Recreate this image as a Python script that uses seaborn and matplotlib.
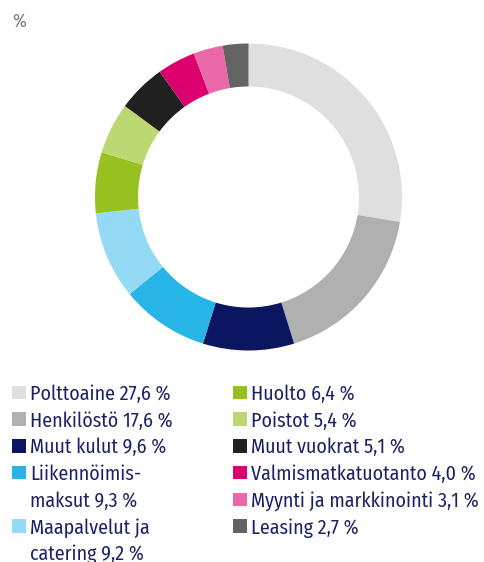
import matplotlib
matplotlib.use("Agg")
import matplotlib.pyplot as plt
from matplotlib.patches import Rectangle
import seaborn as sns
import pandas as pd

categories = ["Polttoaine", "Henkilöstö", "Muut kulut", "Liikennöimismaksut",
              "Maapalvelut ja catering", "Huolto", "Poistot", "Muut vuokrat",
              "Valmismatkatuotanto", "Myynti ja markkinointi", "Leasing"]
values = [27.6, 17.6, 9.6, 9.3, 9.2, 6.4, 5.4, 5.1, 4.0, 3.1, 2.7]
legend_labels = ["Polttoaine 27,6 %", "Henkilöstö 17,6 %", "Muut kulut 9,6 %",
                 "Liikennöimis-\nmaksut 9,3 %", "Maapalvelut ja\ncatering 9,2 %",
                 "Huolto 6,4 %", "Poistot 5,4 %", "Muut vuokrat 5,1 %",
                 "Valmismatkatuotanto 4,0 %", "Myynti ja markkinointi 3,1 %",
                 "Leasing 2,7 %"]
colors = ["#dfdfdf", "#b0b0b0", "#0c1660", "#27b5e8", "#94daf4", "#97c11e",
          "#bcd872", "#202020", "#dc006e", "#ea68a8", "#636363"]

df = pd.DataFrame({"category": categories, "value": values,
                   "label": legend_labels, "color": colors})

sns.set_theme(style="white")
plt.rcParams["font.family"] = ["Fira Sans Condensed", "DejaVu Sans"]

W, H = 484, 562
fig = plt.figure(figsize=(W / 100, H / 100), dpi=100)

cx, cy, r = 248.5, 197, 153.5
ax = fig.add_axes([(cx - r) / W, (H - cy - r) / H, 2 * r / W, 2 * r / H])
ax.pie(df["value"], colors=df["color"], startangle=90, counterclock=False,
       radius=1.0, wedgeprops=dict(width=0.28, linewidth=0))
ax.set_xlim(-1, 1)
ax.set_ylim(-1, 1)
ax.set_aspect("equal")
ax.axis("off")

fig.text(12 / W, 1 - 26.5 / H, "%", fontsize=13.5, color="#7a7a7a",
         va="baseline", ha="left")

text_color = "#1c2166"
row0, pitch = 392.5, 26.7
col_rows = [0, 1, 2, 3, 5, 0, 1, 2, 3, 4, 5]
col_idx = [0, 0, 0, 0, 0, 1, 1, 1, 1, 1, 1]
sq_x = [12, 233]
tx_x = [30, 251]
sq = 13.5
for i, row in df.iterrows():
    c = col_idx[i]
    yc = row0 + pitch * col_rows[i]
    fig.patches.append(Rectangle((sq_x[c] / W, 1 - (yc + sq / 2) / H), sq / W, sq / H,
                                 transform=fig.transFigure, facecolor=row["color"],
                                 edgecolor="none"))
    for k, line in enumerate(row["label"].split("\n")):
        fig.text(tx_x[c] / W, 1 - (yc + 7.5 + pitch * k) / H, line, fontsize=14.4,
                 color=text_color, ha="left", va="baseline")

fig.savefig("out.png", dpi=100)
